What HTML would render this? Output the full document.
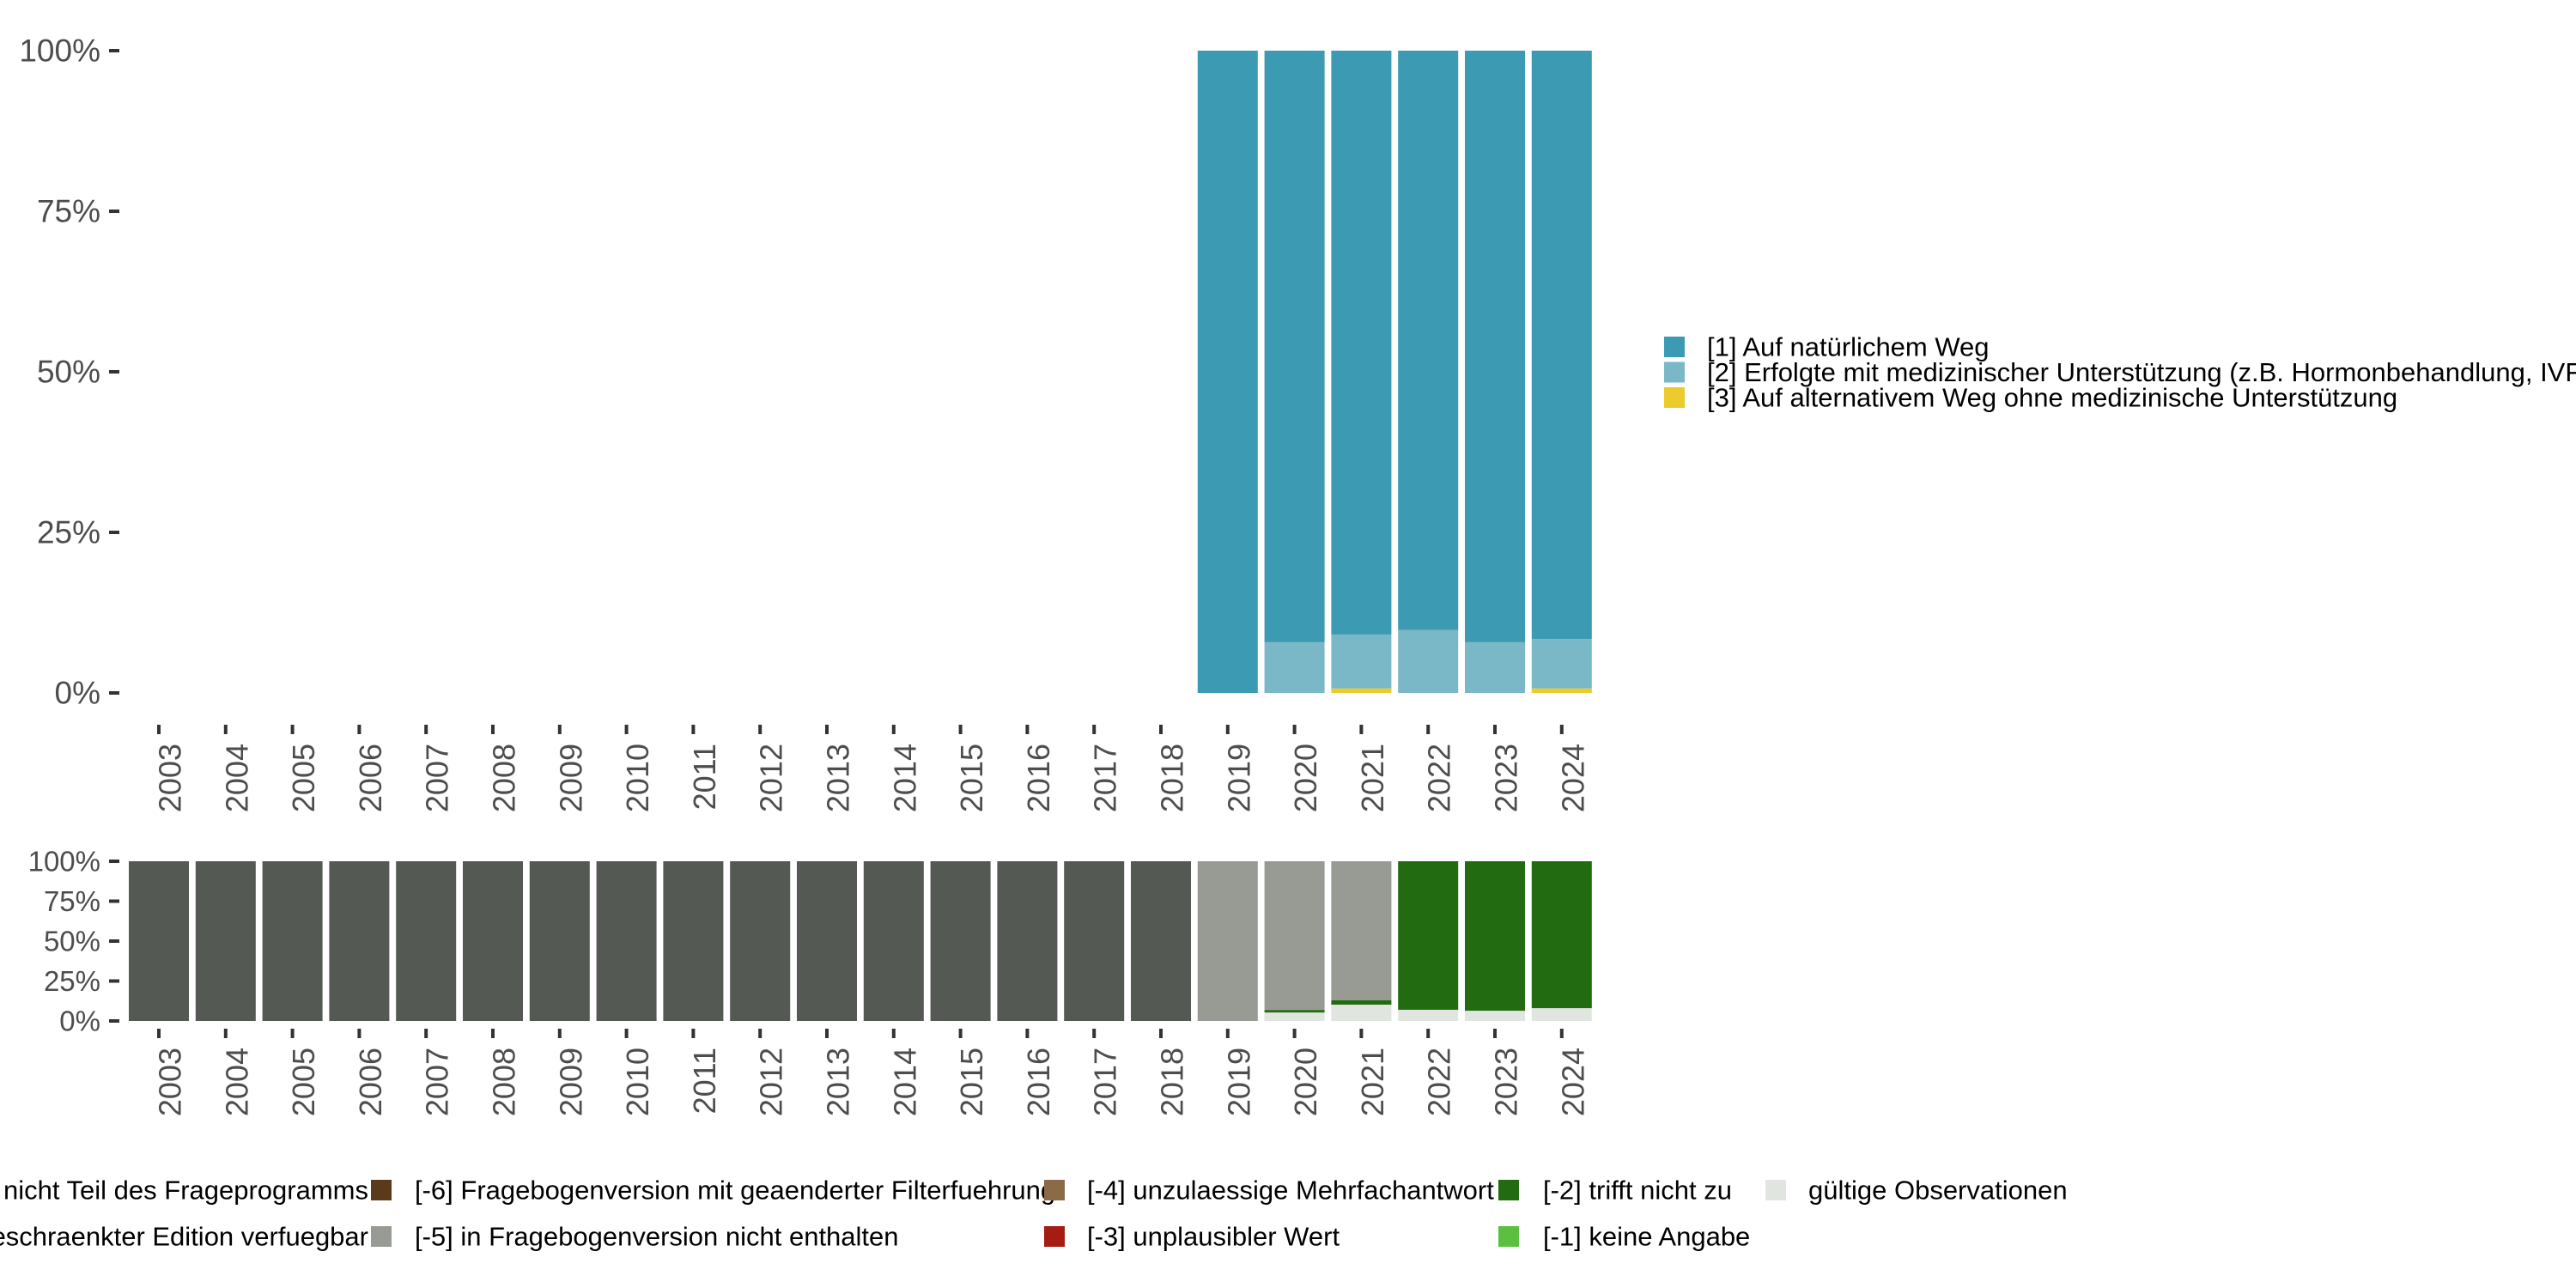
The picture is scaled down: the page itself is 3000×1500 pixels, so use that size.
<!DOCTYPE html>
<html><head><meta charset="utf-8"><style>
html,body{margin:0;padding:0;background:#fff;}
svg{display:block;font-family:"Liberation Sans",sans-serif;}
</style></head><body>
<svg id="chart" width="3000" height="1500" viewBox="0 0 3000 1500" xmlns="http://www.w3.org/2000/svg">
<g id="top"></g>
<g id="bot"></g>
<g id="legR"></g>
<g id="legB"></g>
</svg>
<script>
const years = ["2003","2004","2005","2006","2007","2008","2009","2010","2011","2012","2013","2014","2015","2016","2017","2018","2019","2020","2021","2022","2023","2024"];
// top panel shares (%)
const cat3 = [0,0,0,0,0,0,0,0,0,0,0,0,0,0,0,0,0,0,0.7,0,0,0.7];
const cat2 = [0,0,0,0,0,0,0,0,0,0,0,0,0,0,0,0,0,7.9,8.4,9.8,7.9,7.7];
const cat1 = [0,0,0,0,0,0,0,0,0,0,0,0,0,0,0,0,100,92.1,90.9,90.2,92.1,91.6];
// bottom panel shares (%)
const valid = [0,0,0,0,0,0,0,0,0,0,0,0,0,0,0,0,0,5.3,10.2,7,6.4,8];
const neg2 = [0,0,0,0,0,0,0,0,0,0,0,0,0,0,0,0,0,1.6,2.7,93,93.6,92];
const neg5 = [0,0,0,0,0,0,0,0,0,0,0,0,0,0,0,0,100,93.1,87.1,0,0,0];
const neg8 = [100,100,100,100,100,100,100,100,100,100,100,100,100,100,100,100,0,0,0,0,0,0];
const yTicks = [0,25,50,75,100];
const yTickLabels = ["0%","25%","50%","75%","100%"];
const legendTop = ["[1] Auf natürlichem Weg","[2] Erfolgte mit medizinischer Unterstützung (z.B. Hormonbehandlung, IVF)","[3] Auf alternativem Weg ohne medizinische Unterstützung"];
const legendBot = [
 ["[-8] Frage nicht Teil des Frageprogramms","[-7] Nur in eingeschraenkter Edition verfuegbar"],
 ["[-6] Fragebogenversion mit geaenderter Filterfuehrung","[-5] in Fragebogenversion nicht enthalten"],
 ["[-4] unzulaessige Mehrfachantwort","[-3] unplausibler Wert"],
 ["[-2] trifft nicht zu","[-1] keine Angabe"],
 ["gültige Observationen",null]];

const NS="http://www.w3.org/2000/svg";
function mk(tag,attrs,parent){const e=document.createElementNS(NS,tag);for(const k in attrs)e.setAttribute(k,attrs[k]);parent.appendChild(e);return e;}
const xC = i => 185 + i*77.8;
const BW = 70;

function panel(g, y0, y1, series, colors, names, fs, labY){
  const y = v => y1 - (v/100)*(y1-y0);
  yTicks.forEach((t,k)=>{
    const tk=mk('rect',{x:127,y:y(t)-2,width:12,height:4,fill:'#333'},g);
    
    
    const tx=mk('text',{x:117,y:y(t),'font-size':fs,fill:'#4d4d4d','text-anchor':'end','dominant-baseline':'central'},g);
    tx.textContent=yTickLabels[k];
    
    
  });
  years.forEach((yr,i)=>{
    let cum=0;
    series.forEach((s,si)=>{
      const v=s[i]; if(v<=0){return;}
      const r=mk('rect',{x:xC(i)-BW/2,y:y(cum+v),width:BW,height:y(cum)-y(cum+v),fill:colors[si]},g);
      
      
      cum+=v;
    });
    const tk=mk('rect',{x:xC(i)-2,y:labY-22,width:4,height:11,fill:'#333'},g);
    
    
    const tx=mk('text',{x:0,y:0,'font-size':36,fill:'#4d4d4d','text-anchor':'end','dominant-baseline':'central',transform:`translate(${xC(i)+13},${labY}) rotate(-90)`},g);
    tx.textContent=yr;
    
    
  });
}
panel(document.getElementById('top'),59,807,[cat3,cat2,cat1],['#ebcc2a','#7ab8c7','#3c9ab2'],['cat3','cat2','cat1'],37,866);
panel(document.getElementById('bot'),1003,1189,[valid,neg2,neg5,neg8],['#e1e5e0','#236b10','#989b94','#545a53'],['valid','neg2','neg5','neg8'],33,1220);

const lr=document.getElementById('legR');
const lrCol=['#3c9ab2','#7ab8c7','#ebcc2a'];
legendTop.forEach((t,i)=>{
  const yy=404+i*29.5;
  const r=mk('rect',{x:1938,y:yy-12,width:24,height:24,fill:lrCol[i]},lr);
  
  
  const tx=mk('text',{x:1988,y:yy,'font-size':31,fill:'#000','dominant-baseline':'central'},lr);
  tx.textContent=t;
  
  
});

const lb=document.getElementById('legB');
const colX=[-360,432,1216,1745,2056];
const txX=[null,483,1266,1797,2106];
const lbCol=[['#545a53','#6b6f69'],['#5a3a1a','#989b94'],['#8b6a48','#a51c13'],['#236b10','#5bbf3f'],['#e1e5e0',null]];
legendBot.forEach((col,c)=>{
  col.forEach((t,r)=>{
    if(t===null)return;
    const yy=1386+r*54;
    if(c>0){
      const s=mk('rect',{x:colX[c],y:yy-12,width:24,height:24,fill:lbCol[c][r]},lb);
      
      
    }
    const tx=c===0?mk('text',{x:429,y:yy,'font-size':31,fill:'#000','text-anchor':'end','dominant-baseline':'central'},lb)
                  :mk('text',{x:txX[c],y:yy,'font-size':31,fill:'#000','dominant-baseline':'central'},lb);
    tx.textContent=t;
    
    
  });
});
</script>
</body></html>
